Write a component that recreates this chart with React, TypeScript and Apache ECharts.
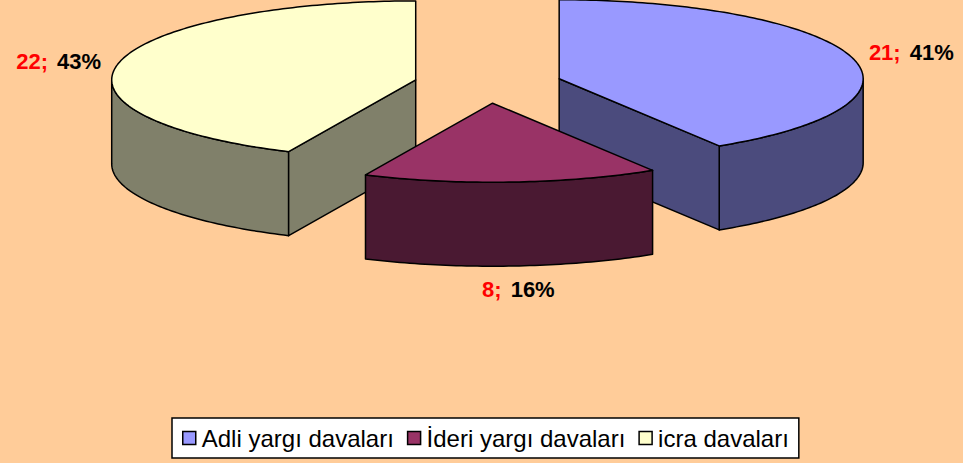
import React, { useEffect, useRef } from 'react';
import * as echarts from 'echarts';

// ---- data ----
const categories = ['Adli yargı davaları', 'İderi yargı davaları', 'icra davaları'];
const values = [21, 8, 22];
const topColors = ['#9999FF', '#993366', '#FFFFCC'];
const sideColors = ['#4B4B7D', '#4A1932', '#80806A'];

// ---- layout ----
const W = 963;
const H = 463;
const CX = 488;
const CY = 84;
const RX = 304;
const RY = 79;
const DEPTH = 84;
const EXPLODE = 74;
const LABEL_GAP = 18;
const FONT = '"Liberation Sans", Arial, sans-serif';

const total = values.reduce((a, b) => a + b, 0);
const starts: number[] = [];
{
  let acc = 0;
  values.forEach((v) => {
    starts.push((acc / total) * 360);
    acc += v;
  });
}
const rad = (d: number) => (d * Math.PI) / 180;
const mids = values.map((v, i) => starts[i] + ((v / total) * 360) / 2);
const order = mids
  .map((m, i) => ({ i, f: -Math.cos(rad(m)) }))
  .sort((a, b) => a.f - b.f)
  .map((o) => o.i);

function renderSlice(i: number, value: number) {
  const s = starts[i];
  const e = s + (value / total) * 360;
  const m = (s + e) / 2;
  const k = RY / RX;
  const ax = CX + EXPLODE * Math.sin(rad(m));
  const ay = CY - EXPLODE * k * Math.cos(rad(m));
  const rim = (t: number, dy = 0, ex = 0) => [
    ax + (RX + ex) * Math.sin(rad(t)),
    ay - (RY + ex) * Math.cos(rad(t)) + dy,
  ];
  const arc = (a: number, b: number, dy = 0) => {
    const pts: number[][] = [];
    const n = Math.max(2, Math.ceil(Math.abs(b - a)));
    for (let j = 0; j <= n; j++) pts.push(rim(a + ((b - a) * j) / n, dy));
    return pts;
  };
  const base = order.indexOf(i) * 10;
  const stroke = { stroke: '#000', lineWidth: 1.5, lineJoin: 'round' };
  const children: any[] = [];

  // outer wall (front-facing part)
  const a = Math.max(s, 90);
  const b = Math.min(e, 270);
  if (b > a) {
    children.push({
      type: 'polygon',
      z2: base + 1,
      shape: { points: arc(a, b, 0).concat(arc(b, a, DEPTH)) },
      style: { fill: sideColors[i], ...stroke },
    });
  }
  // radial walls
  const wall = (t: number) => ({
    type: 'polygon',
    z2: base + 2,
    shape: { points: [[ax, ay], rim(t), rim(t, DEPTH), [ax, ay + DEPTH]] },
    style: { fill: sideColors[i], ...stroke },
  });
  if (Math.sin(rad(s)) < -1e-6) children.push(wall(s));
  if (Math.sin(rad(e)) > 1e-6) children.push(wall(e));

  // top face
  children.push({
    type: 'polygon',
    z2: base + 3,
    shape: { points: [[ax, ay]].concat(arc(s, e, 0)) },
    style: { fill: topColors[i], ...stroke },
  });

  // label
  const sm = Math.sin(rad(m));
  const cm = Math.cos(rad(m));
  const lp = rim(m, cm < 0 ? DEPTH + 5 : 0, LABEL_GAP);
  const pct = Math.round((value / total) * 100);
  const tok = { fontSize: 22, fontWeight: 'bold', fontFamily: FONT };
  children.push({
    type: 'text',
    z2: 100,
    x: lp[0] + (Math.abs(sm) <= 0.3 ? 6 : 0),
    y: lp[1] + (sm < -0.3 ? 2 : 0),
    style: {
      text: `{v|${value};}{p|${pct}%}`,
      align: sm > 0.3 ? 'left' : sm < -0.3 ? 'right' : 'center',
      verticalAlign: 'middle',
      ...tok,
      fill: '#000',
      rich: {
        v: { ...tok, fill: '#FF0000', color: '#FF0000' },
        p: { ...tok, fill: '#000000', color: '#000000', padding: [0, 0, 0, 9] },
      },
    },
  });

  return { type: 'group', children };
}

export default function App() {
  const ref = useRef<HTMLDivElement>(null);
  useEffect(() => {
    if (!ref.current) return;
    const chart = echarts.init(ref.current, null, { renderer: 'svg' });
    chart.setOption({
      animation: false,
      backgroundColor: '#FFCC99',
      legend: {
        data: categories,
        left: 172,
        top: 418,
        padding: [8, 10, 8, 10],
        itemGap: 13,
        itemWidth: 13,
        itemHeight: 13,
        icon: 'rect',
        backgroundColor: '#FFFFFF',
        borderColor: '#000000',
        borderWidth: 1.5,
        borderRadius: 0,
        selectedMode: false,
        itemStyle: { borderColor: '#000000', borderWidth: 1.5 },
        textStyle: {
          color: '#000000',
          fontSize: 24,
          fontFamily: FONT,
          padding: [0, 0, 0, 1],
        },
      },
      series: categories.map((name, i) => ({
        type: 'custom',
        name,
        coordinateSystem: 'none',
        silent: true,
        itemStyle: { color: topColors[i] },
        data: [values[i]],
        renderItem: (_params: any, api: any) => renderSlice(i, api.value(0)),
      })),
    });
    return () => chart.dispose();
  }, []);
  return (
    <div
      ref={ref}
      style={{ position: 'absolute', left: 0, top: 0, width: W, height: H }}
    />
  );
}
